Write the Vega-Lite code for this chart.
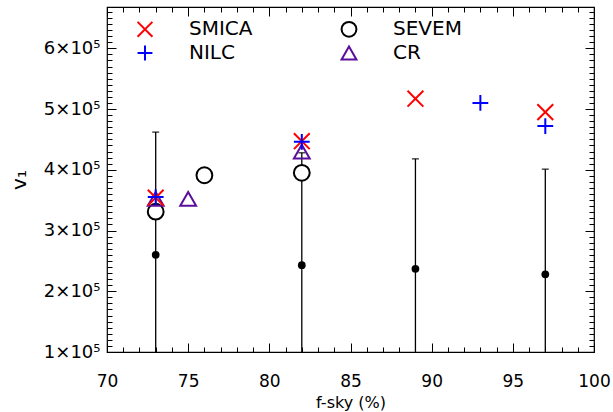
{
  "$schema": "https://vega.github.io/schema/vega-lite/v6.json",
  "autosize": {"type": "none"},
  "width": 487,
  "height": 345,
  "padding": {"left": 107, "top": 7, "right": 19, "bottom": 60},
  "background": "white",
  "config": {
    "view": {"stroke": "black", "strokeWidth": 1.2},
    "font": "DejaVu Sans",
    "axis": {"domainColor": "black", "tickColor": "black", "labelColor": "black", "titleColor": "black", "grid": false, "labelFont": "DejaVu Sans", "titleFont": "DejaVu Sans", "labelFontWeight": "normal", "titleFontWeight": "normal"}
  },
  "datasets": {
    "err": [
      {"fsky": 73, "v": 260000, "lo": 58000, "hi": 462000},
      {"fsky": 82, "v": 243000, "lo": 58000, "hi": 428000},
      {"fsky": 89, "v": 237000, "lo": 56000, "hi": 418000},
      {"fsky": 97, "v": 228000, "lo": 55000, "hi": 401000}
    ],
    "pts": [
      {"method": "SEVEM", "fsky": 73, "v": 331000},
      {"method": "SEVEM", "fsky": 76, "v": 391000},
      {"method": "SEVEM", "fsky": 82, "v": 395000},
      {"method": "CR", "fsky": 73, "v": 352000},
      {"method": "CR", "fsky": 75, "v": 352000},
      {"method": "CR", "fsky": 82, "v": 430000},
      {"method": "SMICA", "fsky": 73, "v": 354000},
      {"method": "SMICA", "fsky": 82, "v": 447000},
      {"method": "SMICA", "fsky": 89, "v": 517000},
      {"method": "SMICA", "fsky": 97, "v": 495000},
      {"method": "NILC", "fsky": 73, "v": 355000},
      {"method": "NILC", "fsky": 82, "v": 446000},
      {"method": "NILC", "fsky": 93, "v": 510000},
      {"method": "NILC", "fsky": 97, "v": 472000}
    ]
  },
  "resolve": {"axis": {"x": "independent", "y": "independent"}},
  "layer": [
    {
      "data": {"name": "err"},
      "mark": {"type": "rule", "color": "black", "strokeWidth": 1.3, "clip": true},
      "encoding": {
        "x": {"field": "fsky", "type": "quantitative", "scale": {"domain": [70, 100], "nice": false, "zero": false},
          "axis": {"orient": "bottom", "title": "f-sky (%)", "tickCount": 30, "labelExpr": "datum.value % 5 === 0 ? datum.label : ''",
            "tickSize": {"condition": {"test": "datum.value % 5 === 0", "value": -9}, "value": -5},
            "labelPadding": 30, "labelFontSize": 17, "titleFontSize": 16, "titlePadding": 5, "domain": false, "labelFlush": false}},
        "y": {"field": "lo", "type": "quantitative", "scale": {"domain": [100000, 668000], "nice": false, "zero": false},
          "axis": {"orient": "left", "title": "v₁", "tickCount": 57,
            "labelExpr": "datum.value % 100000 === 0 ? format(datum.value / 100000, 'd') + '×10⁵' : ''",
            "tickSize": {"condition": {"test": "datum.value % 100000 === 0", "value": -9}, "value": -5},
            "labelPadding": 16, "labelFontSize": 18, "titleFontSize": 20, "titlePadding": 14, "domain": false, "labelFlush": false}},
        "y2": {"field": "hi"}
      }
    },
    {
      "data": {"name": "err"},
      "mark": {"type": "tick", "orient": "horizontal", "color": "black", "size": 7, "thickness": 1.5},
      "encoding": {
        "x": {"field": "fsky", "type": "quantitative", "scale": {"domain": [70, 100], "nice": false, "zero": false},
          "axis": {"orient": "top", "title": null, "labels": false, "tickCount": 30, "domain": false,
            "tickSize": {"condition": {"test": "datum.value % 5 === 0", "value": -9}, "value": -5}}},
        "y": {"field": "hi", "type": "quantitative", "scale": {"domain": [100000, 668000], "nice": false, "zero": false},
          "axis": {"orient": "right", "title": null, "labels": false, "tickCount": 57, "domain": false,
            "tickSize": {"condition": {"test": "datum.value % 100000 === 0", "value": -9}, "value": -5}}}
      }
    },
    {
      "data": {"name": "err"},
      "mark": {"type": "point", "filled": true, "color": "black", "size": 60, "opacity": 1},
      "encoding": {
        "x": {"field": "fsky", "type": "quantitative", "axis": null},
        "y": {"field": "v", "type": "quantitative", "axis": null}
      }
    },
    {
      "data": {"name": "pts"},
      "mark": {"type": "point", "strokeWidth": 2, "opacity": 1, "size": 250},
      "encoding": {
        "x": {"field": "fsky", "type": "quantitative", "axis": null},
        "y": {"field": "v", "type": "quantitative", "axis": null},
        "stroke": {"field": "method", "type": "nominal",
          "scale": {"domain": ["SMICA", "NILC", "SEVEM", "CR"], "range": ["#ff0000", "#0000ff", "#000000", "#5b0e9c"]},
          "legend": {"title": null, "orient": "none", "legendX": 28, "legendY": 12, "columns": 2, "columnPadding": 84, "rowPadding": 0,
            "labelFontSize": 20, "labelFont": "DejaVu Sans", "labelColor": "black", "labelOffset": 34, "symbolSize": 220, "symbolStrokeWidth": 2}},
        "fill": {"field": "method", "type": "nominal",
          "scale": {"domain": ["SMICA", "NILC", "SEVEM", "CR"], "range": ["transparent", "transparent", "white", "transparent"]}},
        "shape": {"field": "method", "type": "nominal",
          "scale": {"domain": ["SMICA", "NILC", "SEVEM", "CR"], "range": ["M-1,-1L1,1M1,-1L-1,1", "M-1,0L1,0M0,-1L0,1", "circle", "triangle-up"]}}
      }
    }
  ]
}
